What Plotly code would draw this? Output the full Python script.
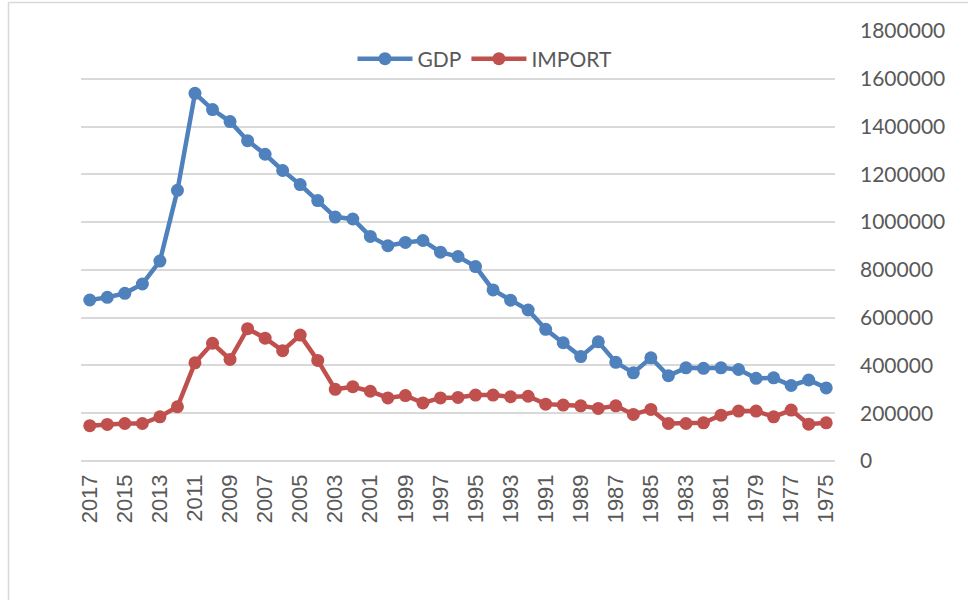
import plotly.graph_objects as go

years = [str(y) for y in range(2017, 1974, -1)]
tick_years = [str(y) for y in range(2017, 1974, -2)]

gdp = [674000, 685000, 702000, 741000, 837000, 1133000, 1539000, 1471000, 1421000,
       1341000, 1284000, 1216000, 1157000, 1090000, 1021000, 1013000, 940000, 901000,
       915000, 923000, 874000, 856000, 814000, 716000, 673000, 632000, 551000, 495000,
       437000, 499000, 413000, 369000, 432000, 357000, 390000, 388000, 390000, 383000,
       346000, 348000, 316000, 339000, 306000]

imports = [148000, 153000, 157000, 157000, 185000, 227000, 411000, 493000, 425000,
           554000, 514000, 462000, 527000, 421000, 300000, 311000, 292000, 264000,
           274000, 243000, 264000, 266000, 276000, 276000, 269000, 271000, 238000,
           234000, 231000, 220000, 231000, 195000, 216000, 157000, 157000, 160000,
           192000, 209000, 209000, 185000, 213000, 154000, 160000]

y_ticks = list(range(0, 1800001, 200000))

fig = go.Figure()
fig.add_trace(go.Scatter(x=years, y=gdp, name="GDP", mode="lines+markers",
                         line=dict(color="#4f81bd", width=4.5),
                         marker=dict(color="#4f81bd", size=13)))
fig.add_trace(go.Scatter(x=years, y=imports, name="IMPORT", mode="lines+markers",
                         line=dict(color="#c0504d", width=4.5),
                         marker=dict(color="#c0504d", size=13)))

L, R, T, B = 81, 133, 31, 139
pw, ph = 968 - L - R, 600 - T - B

def px_x(p):
    return (p - L) / pw

def px_y(p):
    return (600 - B - p) / ph

fig.update_layout(
    width=968, height=600,
    margin=dict(l=L, r=R, t=T, b=B),
    paper_bgcolor="white", plot_bgcolor="white",
    font=dict(family="Lato, Liberation Sans, sans-serif", color="#595959", size=21),
    showlegend=True,
    legend=dict(orientation="h", x=px_x(485), y=px_y(59), xanchor="center", yanchor="middle",
                font=dict(size=21, color="#595959", family="Lato, sans-serif"),
                bgcolor="rgba(0,0,0,0)", itemwidth=55),
    xaxis=dict(type="category", categoryorder="array", categoryarray=years,
               tickmode="array", tickvals=tick_years, ticktext=tick_years,
               tickangle=-90, showgrid=False, showline=False, zeroline=False,
               ticks="", ticklabelstandoff=8,
               tickfont=dict(family="Liberation Sans, Arial, sans-serif", size=22, color="#595959"),
               range=[-0.5, len(years) - 0.5]),
    yaxis=dict(side="right", range=[0, 1800000], tickmode="array", tickvals=y_ticks,
               ticktext=[str(v) for v in y_ticks],
               showgrid=True, gridcolor="#d9d9d9", gridwidth=1.5,
               zeroline=True, zerolinecolor="#d9d9d9", zerolinewidth=1.5,
               showline=False, ticks="", ticklabelstandoff=24,
               tickfont=dict(family="Lato, sans-serif", size=21, color="#595959")),
    shapes=[
        dict(type="line", xref="paper", yref="paper", x0=px_x(8.5), x1=px_x(8.5),
             y0=px_y(2.5), y1=px_y(600), line=dict(color="#d9d9d9", width=1.5)),
        dict(type="line", xref="paper", yref="paper", x0=px_x(8.5), x1=px_x(968),
             y0=px_y(2.5), y1=px_y(2.5), line=dict(color="#d9d9d9", width=1.5)),
    ],
)

fig.write_html("out.html", config={"displayModeBar": False},
               post_script="document.body.style.margin='0';")
